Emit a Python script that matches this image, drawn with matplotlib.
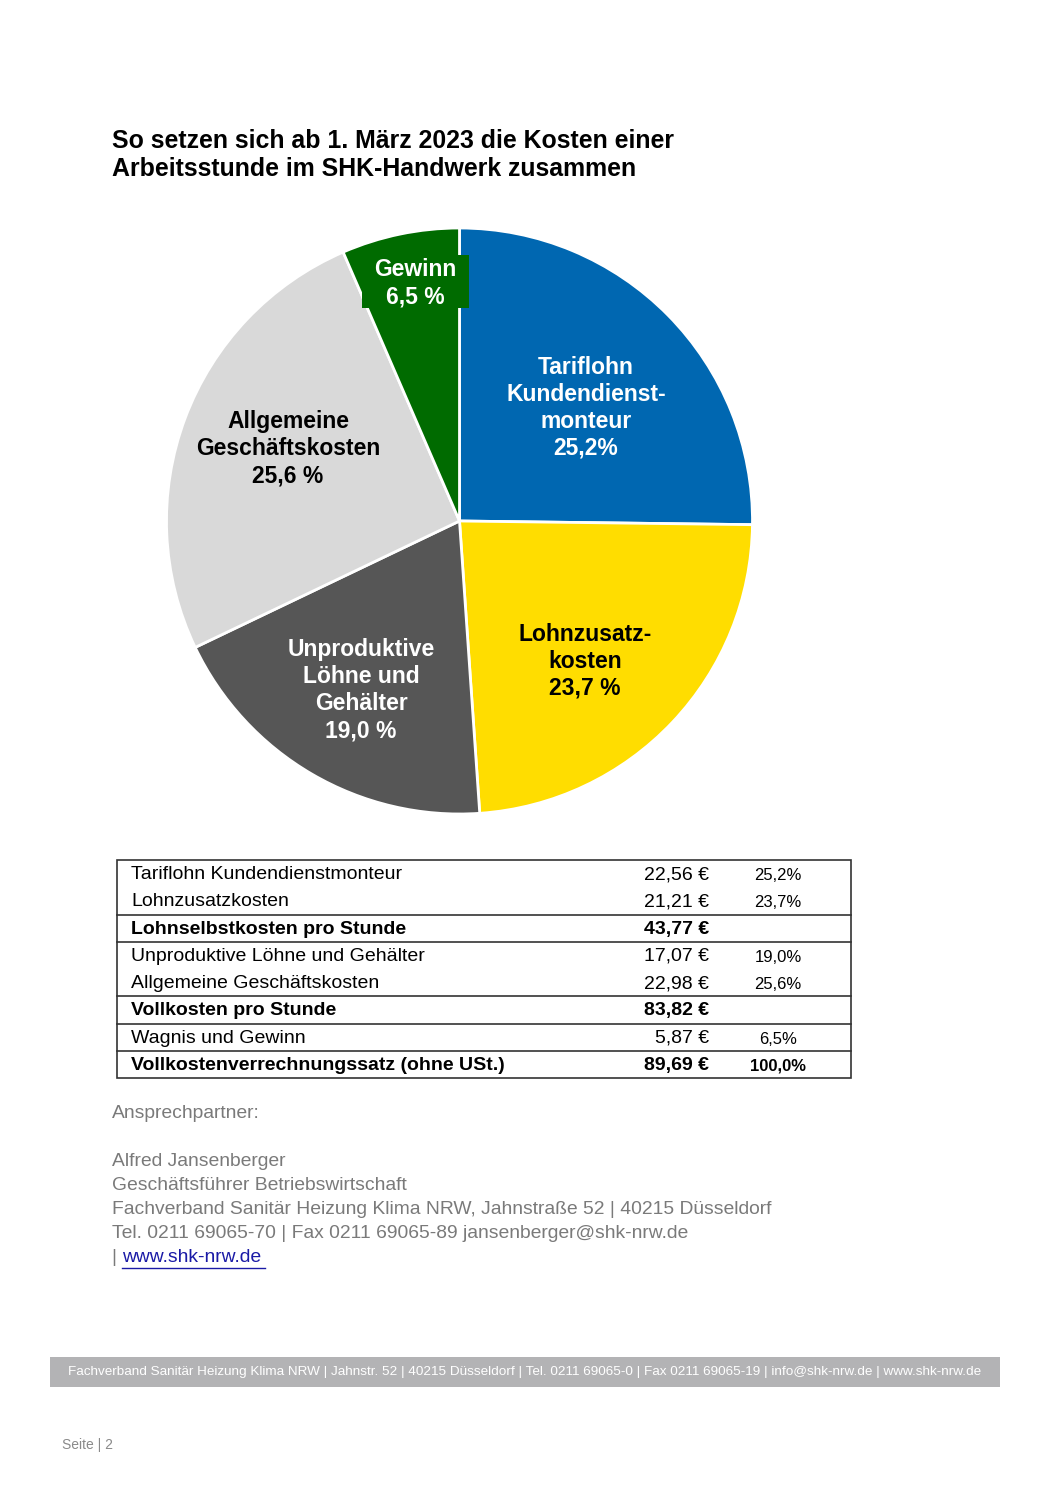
import numpy as np
import matplotlib.pyplot as plt
from matplotlib.patches import Rectangle

# Data
slice_labels = ["Tariflohn\nKundendienst-\nmonteur\n25,2%",
                "Lohnzusatz-\nkosten\n23,7 %",
                "Unproduktive\nLöhne und\nGehälter\n19,0 %",
                "Allgemeine\nGeschäftskosten\n25,6 %",
                "Gewinn\n6,5 %"]
slice_values = [25.2, 23.7, 19.0, 25.6, 6.5]
slice_colors = ["#0067B1", "#FFDD00", "#565656", "#D9D9D9", "#006B00"]
label_colors = ["white", "black", "white", "black", "white"]
# label placement: (fraction of radius, angle in degrees)
label_pos = [(0.579, 41.8), (0.642, -48.1), (0.668, -120.2), (0.635, 157.2), (0.825, 100.5)]

table_names = ["Tariflohn Kundendienstmonteur", "Lohnzusatzkosten",
               "Lohnselbstkosten pro Stunde", "Unproduktive Löhne und Gehälter",
               "Allgemeine Geschäftskosten", "Vollkosten pro Stunde",
               "Wagnis und Gewinn", "Vollkostenverrechnungssatz (ohne USt.)"]
table_euro = ["22,56 €", "21,21 €", "43,77 €", "17,07 €", "22,98 €", "83,82 €", "5,87 €", "89,69 €"]
table_pct = ["25,2%", "23,7%", "", "19,0%", "25,6%", "", "6,5%", "100,0%"]
table_bold = [False, False, True, False, False, True, False, True]

W, H = 1050, 1485
plt.rcParams['font.family'] = ['Liberation Sans', 'DejaVu Sans']
fig = plt.figure(figsize=(W / 100, H / 100), dpi=100)

# page overlay axes in pixel coordinates
page = fig.add_axes([0, 0, 1, 1])
page.set_xlim(0, W)
page.set_ylim(H, 0)
page.axis('off')

page.text(112, 155, "So setzen sich ab 1. März 2023 die Kosten einer\nArbeitsstunde im SHK-Handwerk zusammen",
          fontsize=17.9, fontweight='bold', va='center', ha='left', linespacing=1.25)

# Pie
cx, cy, r = 459.5, 521, 293
ax = fig.add_axes([(cx - r) / W, 1 - (cy + r) / H, 2 * r / W, 2 * r / H])
wedges, _ = ax.pie(slice_values, colors=slice_colors, startangle=90, counterclock=False,
                   wedgeprops=dict(edgecolor='white', linewidth=2))
ax.set_xlim(-1, 1)
ax.set_ylim(-1, 1)
ax.axis('off')

# green box behind the "Gewinn" label (sticks out over neighbouring slices)
ax.add_patch(Rectangle(((362 - cx) / r, (cy - 308) / r), 107 / r, 53 / r,
                       facecolor=slice_colors[4], edgecolor='none', zorder=2))

for lab, col, (d, a) in zip(slice_labels, label_colors, label_pos):
    ang = np.deg2rad(a)
    ax.text(d * np.cos(ang), d * np.sin(ang), lab, ha='center', va='center', color=col, zorder=3,
            fontsize=16.5, fontweight='bold', linespacing=1.22)

# Table
tx0, tx1, ty0 = 117, 851, 860
rh = 27.25
page.add_patch(Rectangle((tx0, ty0), tx1 - tx0, rh * len(table_names), fill=False,
                         edgecolor='#333333', linewidth=1.2))
for i, (name, eur, pct, b) in enumerate(zip(table_names, table_euro, table_pct, table_bold)):
    yc = ty0 + rh * (i + 0.5) + 1
    fw = 'bold' if b else 'normal'
    page.text(131, yc, name, fontsize=14, fontweight=fw, va='center', ha='left')
    page.text(709, yc, eur, fontsize=14, fontweight=fw, va='center', ha='right')
    if pct:
        page.text(778, yc + 1, pct, fontsize=12, fontweight=fw, va='center', ha='center')
for i in [2, 3, 5, 6, 7]:
    page.plot([tx0, tx1], [ty0 + rh * i] * 2, color='#333333', linewidth=1.2)

# Contact block
grey = '#7a7a7a'
contact = [(1113, "Ansprechpartner:"),
           (1162, "Alfred Jansenberger"),
           (1186, "Geschäftsführer Betriebswirtschaft"),
           (1210, "Fachverband Sanitär Heizung Klima NRW, Jahnstraße 52 | 40215 Düsseldorf"),
           (1234, "Tel. 0211 69065-70 | Fax 0211 69065-89 jansenberger@shk-nrw.de")]
for y, t in contact:
    page.text(112, y, t, fontsize=13.9, color=grey, va='center', ha='left')
page.text(112, 1258, "| ", fontsize=13.9, color=grey, va='center', ha='left')
page.text(122, 1258, "www.shk-nrw.de", fontsize=13.9, color='#1a1aa6', va='center', ha='left')
page.plot([122, 265], [1268, 1268], color='#1a1aa6', linewidth=1)

# Footer bar
page.add_patch(Rectangle((50, 1357), 950, 30, facecolor='#b3b3b5', edgecolor='none'))
page.text(525, 1372, "Fachverband Sanitär Heizung Klima NRW | Jahnstr. 52 | 40215 Düsseldorf | Tel. 0211 69065-0 | "
          "Fax 0211 69065-19 | info@shk-nrw.de | www.shk-nrw.de",
          fontsize=9.7, color='white', va='center', ha='center')
page.text(62, 1445, "Seite | 2", fontsize=10, color='#8a8a8a', va='center', ha='left')

fig.savefig("out.png", dpi=100)
